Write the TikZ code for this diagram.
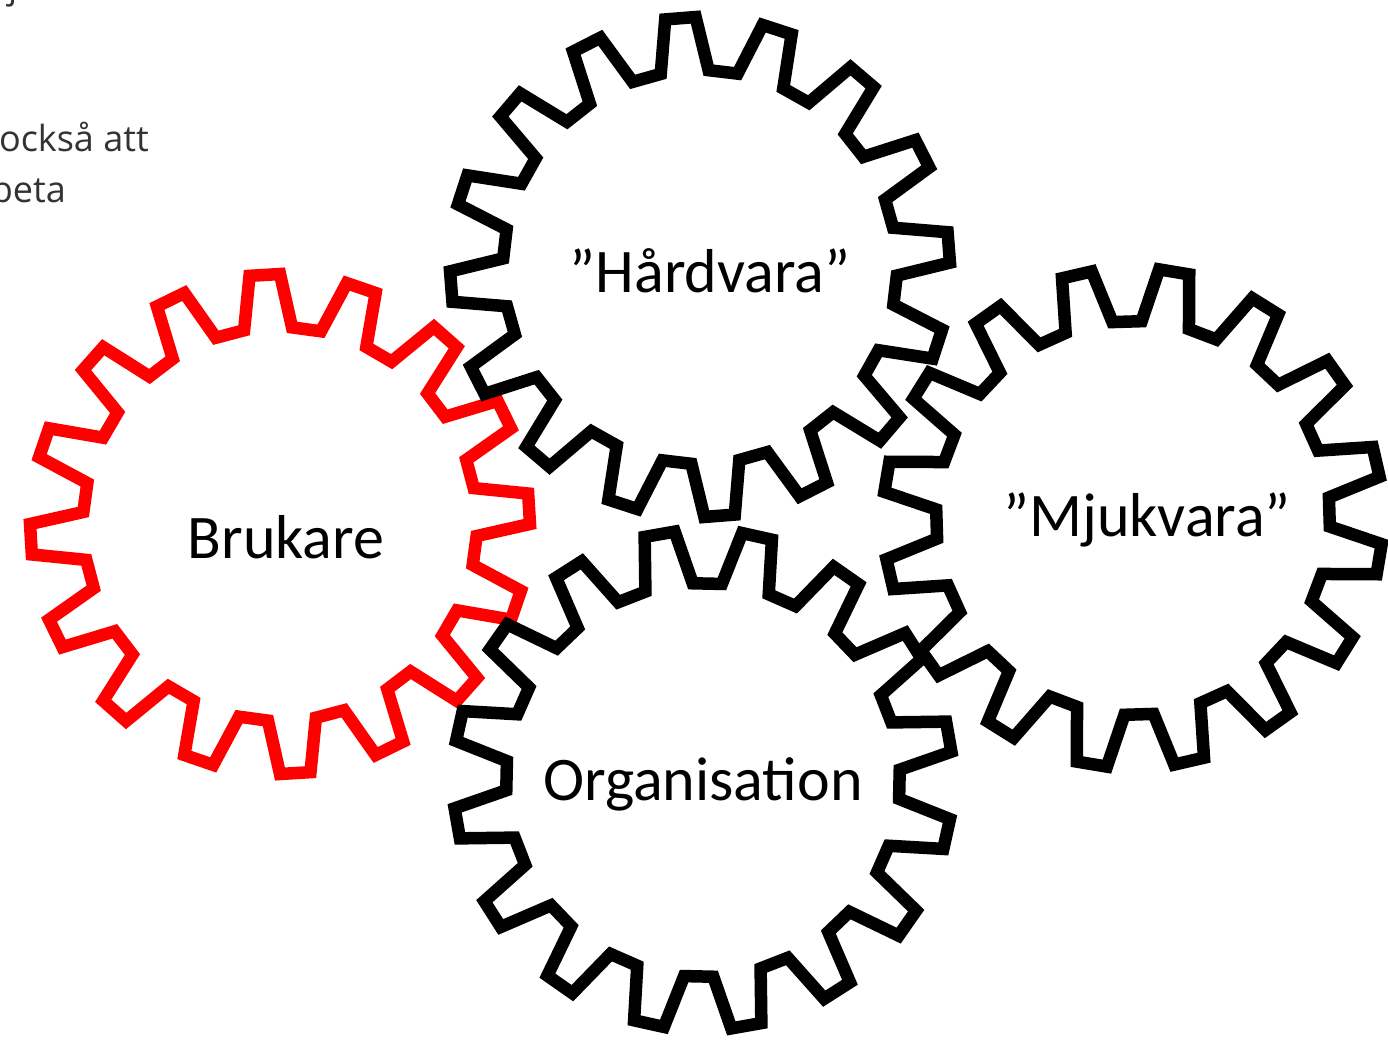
\documentclass[tikz,border=0pt]{standalone}
\usepackage{fontspec}
\setmainfont{Carlito}
\newfontfamily\webfont{Open Sans}
\definecolor{webgray}{HTML}{333333}
\definecolor{gearred}{HTML}{FF0000}
\tikzset{
  cogline/.style={line width=12.5pt, line join=miter, miter limit=10},
  gearlabel/.style={font=\fontsize{62}{70}\selectfont, inner sep=0pt, anchor=base, text=black},
  webtext/.style={font=\webfont\fontsize{36}{44}\selectfont, text=webgray, inner sep=0pt, anchor=base east},
  cog/.pic={
    \draw[cogline] ({#1-7.0}:197) -- ({#1-3.5}:250) -- ({#1+3.5}:250) -- ({#1+7.0}:197)
      \foreach \k in {1,...,15}{
        -- ({#1+22.5*\k-7.0}:197) -- ({#1+22.5*\k-3.5}:250) -- ({#1+22.5*\k+3.5}:250) -- ({#1+22.5*\k+7.0}:197)
      } -- cycle;
  }
}
\begin{document}
\begin{tikzpicture}[x=1pt,y=1pt]
\useasboundingbox (0,0) rectangle (1388,-1043);
\fill[white] (0,0) rectangle (1388,-1043);
\clip (0,0) rectangle (1388,-1043);
% gear centres
\coordinate (cB) at (280,-524);
\coordinate (cH) at (700,-267);
\coordinate (cM) at (1133,-518);
\coordinate (cO) at (703,-780);
% gears
\pic[gearred] at (cB) {cog=3.5};
\pic[black] at (cH) {cog=4.5};
\pic[black] at (cM) {cog=13};
\pic[black] at (cO) {cog=10};
% labels
\node[gearlabel] (brukare) at (286,-558) {Brukare};
\node[gearlabel] (hardvara) at (710,-292) {”Hårdvara”};
\node[gearlabel] (mjukvara) at (1147,-536) {”Mjukvara”};
\node[gearlabel] (organisation) at (703,-800) {Organisation};
% cut-off page text at top left
\node[webtext, anchor=base west] (jfrag) at (8,1) {j};
\node[webtext] (ocksa) at (149,-152) {också att};
\node[webtext] (beta) at (66,-202) {beta};
\end{tikzpicture}
\end{document}
